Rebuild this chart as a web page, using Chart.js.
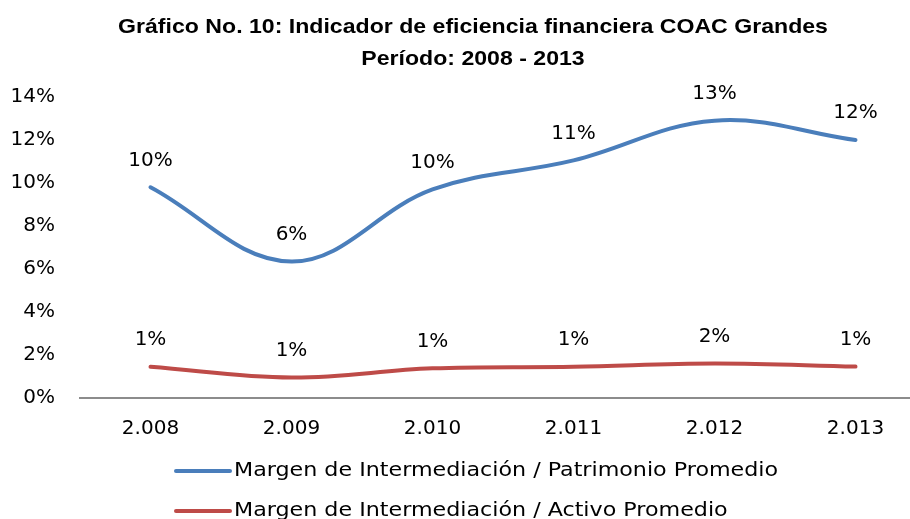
<!DOCTYPE html>
<html>
<head>
<meta charset="utf-8">
<script src="https://cdn.jsdelivr.net/npm/chart.js@4/dist/chart.umd.min.js"></script>
<style>
    html, body { margin: 0; padding: 0; background: #fff; overflow: hidden; }
    #wrap { width: 910px; height: 519px; overflow: hidden; position: relative; }
    #wrap canvas { position: absolute; left: 0; top: 0; }
</style>
</head>
<body>
<div id="wrap"><canvas id="lineChart" width="930" height="519"></canvas></div>
<script>
const years = ['2.008', '2.009', '2.010', '2.011', '2.012', '2.013'];
const patrimonio = [9.8, 6.35, 9.7, 11.05, 12.9, 12.0];
const activo = [1.45, 0.95, 1.38, 1.45, 1.6, 1.46];
const titleLines = ['Gráfico No. 10: Indicador de eficiencia financiera COAC Grandes', 'Período: 2008 - 2013'];

const BLUE = '#4a7ebb';
const RED = '#be4b48';
const FONT = '"DejaVu Sans", Verdana, sans-serif';

// draw text a bit wider, the excel export is stretched horizontally
function wideText(ctx, text, x, y, sx) {
    ctx.save();
    ctx.translate(x, y);
    ctx.scale(sx, 1);
    ctx.fillText(text, 0, 0);
    ctx.restore();
}

// title, point labels and legend drawn by hand to match the excel layout
const extras = {
    id: 'extras',
    afterDatasetsDraw(chart) {
        const ctx = chart.ctx;
        ctx.save();
        ctx.fillStyle = '#000';
        ctx.textAlign = 'center';
        ctx.textBaseline = 'middle';

        ctx.font = 'bold 21px "Liberation Sans", Arial, sans-serif';
        wideText(ctx, titleLines[0], 473, 27, 1.1);
        wideText(ctx, titleLines[1], 473, 59, 1.1);

        ctx.font = '20px ' + FONT;
        chart.data.datasets.forEach((ds, i) => {
            chart.getDatasetMeta(i).data.forEach((pt, j) => {
                ctx.fillText(Math.round(ds.data[j]) + '%', pt.x, pt.y - 27);
            });
        });

        ctx.textAlign = 'left';
        chart.data.datasets.forEach((ds, i) => {
            const y = 471 + i * 40;
            ctx.strokeStyle = ds.borderColor;
            ctx.lineWidth = 4;
            ctx.lineCap = 'round';
            ctx.beginPath();
            ctx.moveTo(176, y);
            ctx.lineTo(230, y);
            ctx.stroke();
            wideText(ctx, ds.label, 234, y, 1.11);
        });
        ctx.restore();
    }
};

new Chart(document.getElementById('lineChart'), {
    type: 'line',
    data: {
        labels: years,
        datasets: [
            {
                label: 'Margen de Intermediación / Patrimonio Promedio',
                data: patrimonio,
                borderColor: BLUE,
                borderWidth: 4,
                pointRadius: 0,
                tension: 0.38,
                borderCapStyle: 'round'
            },
            {
                label: 'Margen de Intermediación / Activo Promedio',
                data: activo,
                borderColor: RED,
                borderWidth: 4,
                pointRadius: 0,
                tension: 0.38,
                borderCapStyle: 'round'
            }
        ]
    },
    options: {
        responsive: false,
        animation: false,
        layout: { padding: { top: 97, right: 4, left: 0, bottom: 0 } },
        scales: {
            x: {
                offset: true,
                grid: { display: false, drawTicks: false },
                border: { display: true, color: '#8c8c8c', width: 2 },
                ticks: { color: '#000', padding: 19, font: { family: FONT, size: 20 } },
                afterFit(scale) { scale.height = 121; }
            },
            y: {
                min: 0,
                max: 14,
                grid: { display: false, drawTicks: false },
                border: { display: false },
                ticks: {
                    stepSize: 2,
                    color: '#000',
                    padding: 25,
                    font: { family: FONT, size: 20 },
                    callback: v => v + '%'
                },
                afterFit(scale) { scale.width = 80; }
            }
        },
        plugins: {
            legend: { display: false },
            title: { display: false },
            tooltip: { enabled: false }
        }
    },
    plugins: [extras]
});
</script>
</body>
</html>
